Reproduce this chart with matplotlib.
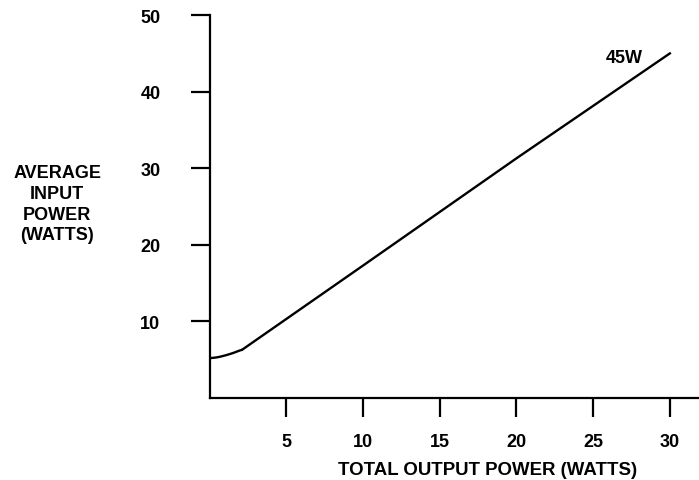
import numpy as np
import matplotlib
matplotlib.use("Agg")
from matplotlib import pyplot as plt

# input power vs total output power
out_watts = [0.0, 0.5, 1.0, 1.5, 2.15, 10, 20, 30]
in_watts = [5.2, 5.3, 5.55, 5.85, 6.35, 17.3, 31.3, 45.0]

x_ticks = [5, 10, 15, 20, 25, 30]
y_ticks = [10, 20, 30, 40, 50]

plt.rcParams['font.family'] = ['Liberation Sans', 'DejaVu Sans']
plt.rcParams['font.weight'] = 'bold'

fig = plt.figure(figsize=(6.99, 4.81), dpi=100)
ax = fig.add_axes([0.300, 0.1705, 0.700, 0.796])

# smooth the knee at the low end, straight line after that
xs = np.linspace(0, 2.15, 30)
knee = np.interp(xs, out_watts[:5], in_watts[:5])
knee = np.convolve(np.pad(knee, 3, mode='edge'), np.ones(7) / 7, mode='valid')
ax.plot(xs, knee, color='black', lw=1.7, solid_capstyle='butt')
ax.plot(out_watts[4:], in_watts[4:], color='black', lw=1.7)

ax.text(28.25, 43.4, '45W', fontsize=13, fontweight='bold', ha='right', va='bottom')

ax.set_xlim(0, 31.9)
ax.set_ylim(0, 50)
ax.set_xticks(x_ticks)
ax.set_yticks(y_ticks)
ax.tick_params(direction='out', length=13.5, width=1.6, labelsize=13, pad=22)
ax.tick_params(axis='x', pad=12)
for lab in ax.get_xticklabels() + ax.get_yticklabels():
    lab.set_fontweight('bold')

for side in ['top', 'right']:
    ax.spines[side].set_visible(False)
for side in ['left', 'bottom']:
    ax.spines[side].set_linewidth(1.6)

ax.set_xlabel('TOTAL OUTPUT POWER (WATTS)', fontsize=13.4, fontweight='bold')
ax.xaxis.set_label_coords(0.568, -0.164)
fig.text(0.082, 0.574, 'AVERAGE\nINPUT\nPOWER\n(WATTS)', fontsize=13, fontweight='bold',
         ha='center', va='center', linespacing=1.28)

fig.savefig('out.png', dpi=100)
